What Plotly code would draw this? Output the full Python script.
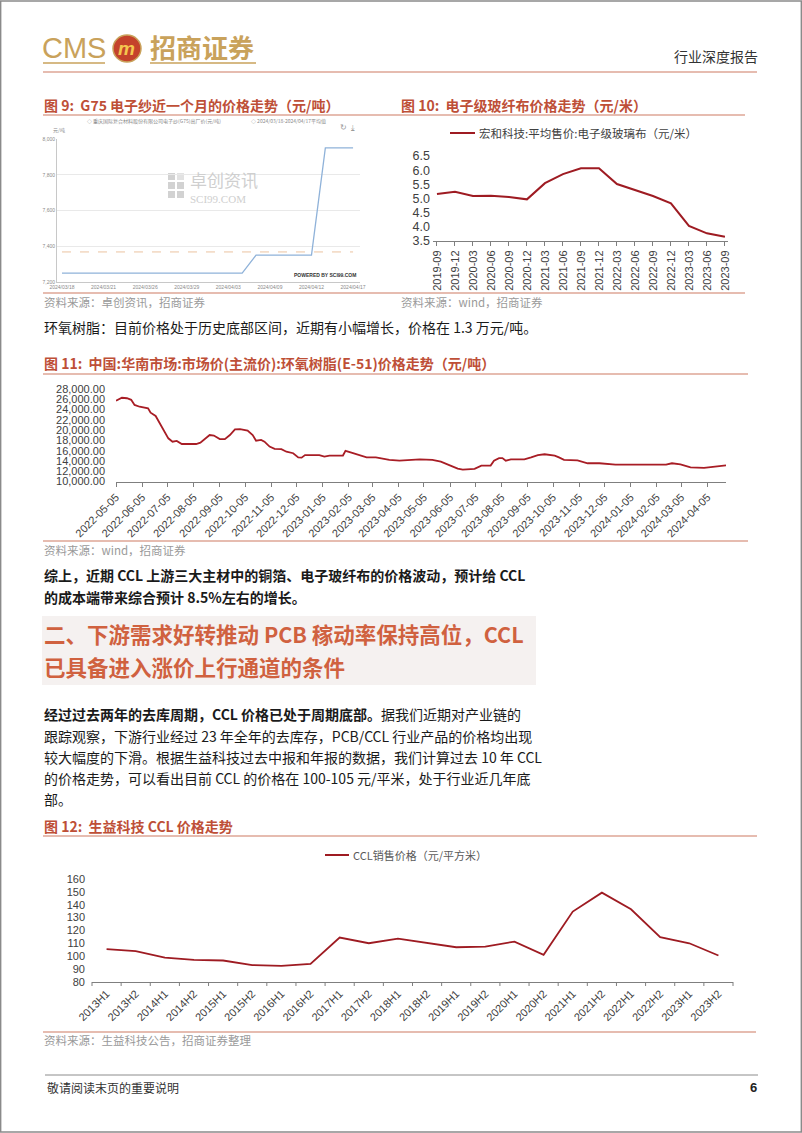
import plotly.graph_objects as go

W, H = 802, 1133
CJK = "Noto Sans CJK SC"
LAT = "Liberation Sans, Arial"


def fx(x):
    return x / W


def fy(y):
    return 1 - y / H


# ---------------- data ----------------
g75_dates = ["2024/03/18", "2024/03/19", "2024/03/20", "2024/03/21", "2024/03/22",
             "2024/03/25", "2024/03/26", "2024/03/27", "2024/03/28", "2024/03/29",
             "2024/04/01", "2024/04/02", "2024/04/03", "2024/04/07", "2024/04/08",
             "2024/04/09", "2024/04/10", "2024/04/11", "2024/04/12", "2024/04/15",
             "2024/04/16", "2024/04/17"]
g75_price = [7250, 7250, 7250, 7250, 7250, 7250, 7250, 7250, 7250, 7250, 7250, 7250,
             7250, 7250, 7350, 7350, 7350, 7350, 7350, 7950, 7950, 7950]
g75_tick_labels = ["2024/03/18", "2024/03/21", "2024/03/26", "2024/03/29",
                   "2024/04/03", "2024/04/09", "2024/04/12", "2024/04/17"]
g75_y_ticks = [7200, 7400, 7600, 7800, 8000]
g75_y_text = ["7,200", "7,400", "7,600", "7,800", "8,000"]

glass_q = ["2019-09", "2019-12", "2020-03", "2020-06", "2020-09", "2020-12", "2021-03",
           "2021-06", "2021-09", "2021-12", "2022-03", "2022-06", "2022-09", "2022-12",
           "2023-03", "2023-06", "2023-09"]
glass_price = [5.16, 5.24, 5.09, 5.10, 5.05, 4.97, 5.54, 5.86, 6.07, 6.07, 5.51, 5.30,
               5.09, 4.83, 4.03, 3.77, 3.65]

epoxy_dates = ["2022-05-05", "2022-05-12", "2022-05-18", "2022-05-23", "2022-05-27",
               "2022-06-02", "2022-06-12", "2022-06-15", "2022-06-21", "2022-06-25",
               "2022-06-30", "2022-07-06", "2022-07-11", "2022-07-16", "2022-07-22",
               "2022-08-08", "2022-08-13", "2022-08-19", "2022-08-24", "2022-08-29",
               "2022-09-05", "2022-09-11", "2022-09-17", "2022-09-23", "2022-09-29",
               "2022-10-08", "2022-10-14", "2022-10-18", "2022-10-24", "2022-10-28",
               "2022-11-03", "2022-11-09", "2022-11-17", "2022-11-23", "2022-12-01",
               "2022-12-07", "2022-12-11", "2022-12-15", "2023-01-01", "2023-01-07",
               "2023-01-13", "2023-01-29", "2023-02-01", "2023-02-08", "2023-02-18",
               "2023-02-26", "2023-03-09", "2023-03-25", "2023-04-06", "2023-04-20",
               "2023-04-30", "2023-05-15", "2023-05-25", "2023-06-04", "2023-06-14",
               "2023-06-20", "2023-07-04", "2023-07-12", "2023-07-23", "2023-07-27",
               "2023-08-02", "2023-08-06", "2023-08-10", "2023-08-16", "2023-09-01",
               "2023-09-09", "2023-09-17", "2023-09-25", "2023-10-07", "2023-10-12",
               "2023-10-18", "2023-11-03", "2023-11-15", "2023-11-29", "2023-12-07",
               "2023-12-18", "2024-02-16", "2024-02-23", "2024-03-04", "2024-03-16",
               "2024-04-01", "2024-04-11", "2024-04-21", "2024-04-27"]
epoxy_price = [25700, 26300, 26200, 25900, 24900, 24550, 24250, 23400, 22750, 21650,
               20050, 18400, 17750, 17900, 17300, 17300, 17550, 18400, 19050, 18950,
               18250, 18250, 19050, 20150, 20200, 19900, 19050, 17950, 18100, 17750,
               16800, 16350, 16300, 15800, 15500, 14700, 14650, 15150, 15150, 14850,
               15050, 15050, 15950, 15600, 15150, 14700, 14700, 14200, 14050, 14200,
               14300, 14200, 13850, 13200, 12500, 12300, 12450, 13100, 13100, 14050,
               14550, 14550, 14050, 14300, 14300, 14700, 15150, 15300, 15050, 14700,
               14200, 14100, 13550, 13550, 13450, 13300, 13300, 13550, 13350, 12750,
               12650, 12850, 12950, 13150]
epoxy_ticks = ["2022-05-05", "2022-06-05", "2022-07-05", "2022-08-05", "2022-09-05",
               "2022-10-05", "2022-11-05", "2022-12-05", "2023-01-05", "2023-02-05",
               "2023-03-05", "2023-04-05", "2023-05-05", "2023-06-05", "2023-07-05",
               "2023-08-05", "2023-09-05", "2023-10-05", "2023-11-05", "2023-12-05",
               "2024-01-05", "2024-02-05", "2024-03-05", "2024-04-05"]

ccl_period = ["2013H1", "2013H2", "2014H1", "2014H2", "2015H1", "2015H2", "2016H1",
              "2016H2", "2017H1", "2017H2", "2018H1", "2018H2", "2019H1", "2019H2",
              "2020H1", "2020H2", "2021H1", "2021H2", "2022H1", "2022H2", "2023H1",
              "2023H2"]
ccl_price = [105.5, 104.0, 99.0, 97.2, 96.7, 93.1, 92.6, 94.1, 114.5, 110.1, 113.7,
             110.5, 107.0, 107.5, 111.4, 101.1, 134.7, 149.4, 136.5, 114.8, 110.1, 100.6]

# ---------------- styles ----------------
GOLD = "#C9A25B"
RULE = "#CD7A63"
TITLE = "#BE4F37"
HEAD = "#D0613F"
DARKRED = "#9E1B22"
BODY = "#1A1A1A"
SRC = "#9A9A9A"
AXIS_TXT = "#404040"
BODY_SIZE = 14
TITLE_SIZE = 14

fig = go.Figure()

g75_idx = list(range(len(g75_dates)))
g75_avg = sum(g75_price) / len(g75_price)
fig.add_trace(go.Scatter(x=g75_idx, y=[g75_avg for _ in g75_idx], mode="lines",
                         line=dict(color="#EBC3A0", width=1, dash="dash"),
                         xaxis="x", yaxis="y"))
fig.add_trace(go.Scatter(x=g75_idx, y=g75_price, mode="lines",
                         line=dict(color="#8FB2D9", width=1.3),
                         xaxis="x", yaxis="y"))
fig.add_trace(go.Scatter(x=list(range(len(glass_q))), y=glass_price, mode="lines",
                         line=dict(color=DARKRED, width=2), xaxis="x2", yaxis="y2"))
fig.add_trace(go.Scatter(x=epoxy_dates, y=epoxy_price, mode="lines",
                         line=dict(color="#A81D25", width=1.8), xaxis="x3", yaxis="y3"))
fig.add_trace(go.Scatter(x=list(range(len(ccl_period))), y=ccl_price, mode="lines",
                         line=dict(color=DARKRED, width=1.8), xaxis="x4", yaxis="y4"))

g75_tickvals = [g75_dates.index(d) for d in g75_tick_labels]

layout = dict(
    width=W, height=H, autosize=False,
    margin=dict(l=0, r=0, t=0, b=0, pad=0, autoexpand=False),
    paper_bgcolor="white", plot_bgcolor="white",
    showlegend=False,
    font=dict(family=LAT, color=AXIS_TXT),
    xaxis=dict(domain=[fx(57), fx(360)], anchor="y", range=[-0.36, 21.5],
               tickmode="array", tickvals=g75_tickvals, ticktext=g75_tick_labels,
               tickfont=dict(size=5, color="#8A8A8A"), showgrid=False, zeroline=False,
               showline=True, linecolor="#C8C8C8", linewidth=1, ticks="",
               automargin=False),
    yaxis=dict(domain=[fy(282), fy(139)], anchor="x", range=[7200, 8000],
               tickmode="array", tickvals=g75_y_ticks, ticktext=g75_y_text,
               tickfont=dict(size=5, color="#8A8A8A"), showgrid=True,
               gridcolor="#E9E9E9", gridwidth=1, zeroline=False,
               showline=True, linecolor="#C8C8C8", linewidth=1, ticks="",
               automargin=False),
    xaxis2=dict(domain=[fx(433), fx(728)], anchor="y2", range=[-0.22, 16.17],
                tickmode="array", tickvals=list(range(len(glass_q))), ticktext=glass_q,
                tickangle=-90, tickfont=dict(size=11, color=AXIS_TXT),
                ticks="outside", ticklen=4, tickcolor="#7F7F7F",
                showline=True, linecolor="#7F7F7F", linewidth=1,
                showgrid=False, zeroline=False, automargin=False),
    yaxis2=dict(domain=[fy(241), fy(156)], anchor="x2", range=[3.5, 6.5],
                dtick=0.5, tick0=3.5, tickformat=".1f",
                tickfont=dict(size=12.5, color=AXIS_TXT), showgrid=False,
                zeroline=False, showline=False, ticks="", ticklabelstandoff=2,
                automargin=False),
    xaxis3=dict(domain=[fx(116), fx(726)], anchor="y3", type="date",
                range=["2022-05-05", "2024-04-27"],
                tickmode="array", tickvals=epoxy_ticks, ticktext=epoxy_ticks,
                tickangle=-45, tickfont=dict(size=11, color=AXIS_TXT),
                ticks="outside", ticklen=4, tickcolor="#7F7F7F",
                showline=True, linecolor="#7F7F7F", linewidth=1,
                showgrid=False, zeroline=False, automargin=False),
    yaxis3=dict(domain=[fy(481.5), fy(389)], anchor="x3", range=[10000, 28000],
                dtick=2000, tick0=10000, tickformat=",.2f",
                tickfont=dict(size=11, color=AXIS_TXT), showgrid=False,
                zeroline=False, showline=False, ticks="", ticklabelstandoff=10,
                automargin=False),
    xaxis4=dict(domain=[fx(92), fx(733)], anchor="y4", range=[-0.5, 21.5],
                tickmode="array", tickvals=list(range(len(ccl_period))),
                ticktext=ccl_period, tickangle=-45,
                tickfont=dict(size=11, color=AXIS_TXT),
                ticks="", showline=True, linecolor="#7F7F7F", linewidth=1,
                showgrid=False, zeroline=False, automargin=False),
    yaxis4=dict(domain=[fy(982), fy(879)], anchor="x4", range=[80, 160],
                dtick=10, tick0=80, tickfont=dict(size=11, color=AXIS_TXT),
                showgrid=False, zeroline=False, showline=False, ticks="",
                ticklabelstandoff=6, automargin=False),
)

annotations = []
shapes = []


def T(x, y, s, size=13, color=BODY, anchor="left", family=CJK, bold=False, angle=0):
    annotations.append(dict(
        x=fx(x), y=fy(y), xref="paper", yref="paper",
        text=("<b>%s</b>" % s) if bold else s, showarrow=False,
        xanchor=anchor, yanchor="middle", align="left",
        font=dict(size=size, color=color, family=family), textangle=angle,
        borderpad=0))


def L(x0, y0, x1, y1, color, width=1, dash=None):
    ln = dict(color=color, width=width)
    if dash:
        ln["dash"] = dash
    shapes.append(dict(type="line", xref="paper", yref="paper",
                       x0=fx(x0), y0=fy(y0), x1=fx(x1), y1=fy(y1), line=ln))


def R(x0, y0, x1, y1, fill, lc=None, lw=0, kind="rect"):
    shapes.append(dict(type=kind, xref="paper", yref="paper",
                       x0=fx(x0), y0=fy(y1), x1=fx(x1), y1=fy(y0),
                       fillcolor=fill, line=dict(color=lc or fill, width=lw),
                       layer="below"))


# page frame
shapes.append(dict(type="rect", xref="paper", yref="paper", x0=0.0008, y0=0.0008,
                   x1=0.9992, y1=0.9992, line=dict(color="#8A8A8A", width=1.5)))

# ---- header ----
T(41, 48, "CMS", size=29, color=GOLD, family=LAT)
R(113, 35, 141, 62, "#C4422B", lc=GOLD, lw=1.5, kind="circle")
T(127, 48, "<i>m</i>", size=19, color="#F4C74F", anchor="center", family=LAT, bold=True)
T(149, 47, "招商证券", size=26, color=GOLD, bold=True)
L(43, 63, 105, 63, GOLD, 1.5)
L(150, 63, 256, 63, GOLD, 1.5)
T(759, 56, "行业深度报告", size=14, color="#333333", anchor="right")
L(43, 72, 757, 72, RULE, 1.2)

T(43, 105, "图 9:  G75 电子纱近一个月的价格走势（元/吨）", size=TITLE_SIZE, color=TITLE, bold=True)
T(400, 105, "图 10:  电子级玻纤布价格走势（元/米）", size=TITLE_SIZE, color=TITLE, bold=True)
L(43, 115, 745, 115, RULE, 1.2)

# fig 9 screenshot decorations
T(86, 121, "◇ 重庆国际复合材料股份有限公司电子纱(G75)出厂价(元/吨)",
  size=5, color="#8A8A8A")
T(250, 121, "◇ 2024/03/18-2024/04/17平均值", size=5, color="#8A8A8A")
T(52, 130, "元/吨", size=5, color="#8A8A8A")
T(343, 128, "↻", size=8, color="#9A9A9A", anchor="center", family=LAT)
T(353, 128, "⤓", size=8, color="#9A9A9A", anchor="center", family="DejaVu Sans")
R(168, 173, 175, 180, "#D2D2D2")
R(177, 173, 184, 180, "#E2E2E2")
R(168, 182, 175, 189, "#D2D2D2")
R(177, 182, 184, 189, "#D2D2D2")
R(168, 191, 175, 198, "#D2D2D2")
R(177, 191, 184, 198, "#D2D2D2")
T(189, 179, "卓创资讯", size=17, color="#CFCFCF")
T(189, 199, "SCI99.COM", size=11, color="#CFCFCF", family="Liberation Serif")
T(357, 275, "POWERED BY SCI99.COM", size=5, color="#333333", anchor="right",
  family=LAT, bold=True)

# fig 10 legend
L(450, 133, 475, 133, DARKRED, 2)
T(478, 133, "宏和科技:平均售价:电子级玻璃布（元/米）", size=11.5, color=AXIS_TXT)

L(43, 293, 745, 293, RULE, 1.2)
T(43, 302, "资料来源：卓创资讯，招商证券", size=11.5, color=SRC)
T(400, 302, "资料来源：wind，招商证券", size=11.5, color=SRC)

T(43, 327, "环氧树脂：目前价格处于历史底部区间，近期有小幅增长，价格在 1.3 万元/吨。",
  size=BODY_SIZE, color=BODY)

# ---- fig 11 ----
T(43, 363, "图 11:  中国:华南市场:市场价(主流价):环氧树脂(E-51)价格走势（元/吨）",
  size=TITLE_SIZE, color=TITLE, bold=True)
L(43, 374, 748, 374, RULE, 1.2)
L(43, 541, 748, 541, RULE, 1.2)
T(43, 550, "资料来源：wind，招商证券", size=11.5, color=SRC)

T(43, 575, "综上，近期 CCL 上游三大主材中的铜箔、电子玻纤布的价格波动，预计给 CCL",
  size=BODY_SIZE, color=BODY, bold=True)
T(43, 597, "的成本端带来综合预计 8.5%左右的增长。", size=BODY_SIZE, color=BODY, bold=True)

# ---- section heading ----
R(42, 616, 536, 685, "#F5F1F0")
T(43, 633, "二、下游需求好转推动 PCB 稼动率保持高位，CCL", size=21.5, color=HEAD, bold=True)
T(43, 666, "已具备进入涨价上行通道的条件", size=21.5, color=HEAD, bold=True)

# ---- paragraph ----
T(43, 714, "<b>经过过去两年的去库周期，CCL 价格已处于周期底部。</b>据我们近期对产业链的",
  size=BODY_SIZE, color=BODY)
T(43, 736, "跟踪观察，下游行业经过 23 年全年的去库存，PCB/CCL 行业产品的价格均出现",
  size=BODY_SIZE, color=BODY)
T(43, 757, "较大幅度的下滑。根据生益科技过去中报和年报的数据，我们计算过去 10 年 CCL",
  size=BODY_SIZE, color=BODY)
T(43, 778, "的价格走势，可以看出目前 CCL 的价格在 100-105 元/平米，处于行业近几年底",
  size=BODY_SIZE, color=BODY)
T(43, 799, "部。", size=BODY_SIZE, color=BODY)

# ---- fig 12 ----
T(43, 826, "图 12:  生益科技 CCL 价格走势", size=TITLE_SIZE, color=TITLE, bold=True)
L(43, 836, 757, 836, RULE, 1.2)
L(325, 855, 349, 855, DARKRED, 2)
T(352, 855, "CCL销售价格（元/平方米）", size=11, color="#595959")
L(43, 1032, 756, 1032, RULE, 1.2)
T(43, 1040, "资料来源：生益科技公告，招商证券整理", size=11.5, color=SRC)

# fig 12 category-boundary tick marks
for i in range(len(ccl_period) + 1):
    xb = 92 + i * (733 - 92) / len(ccl_period)
    L(xb, 982, xb, 986, "#7F7F7F", 1)

# ---- footer ----
L(45, 1075, 758, 1075, "#8C8C8C", 1)
T(46, 1087, "敬请阅读末页的重要说明", size=12, color="#333333")
T(758, 1087, "6", size=13, color="#222222", anchor="right", family=LAT, bold=True)

layout["annotations"] = annotations
layout["shapes"] = shapes
fig.update_layout(**layout)
fig.write_html("out.html", config={"displayModeBar": False},
               post_script="document.body.style.margin='0';document.body.style.padding='0';")
